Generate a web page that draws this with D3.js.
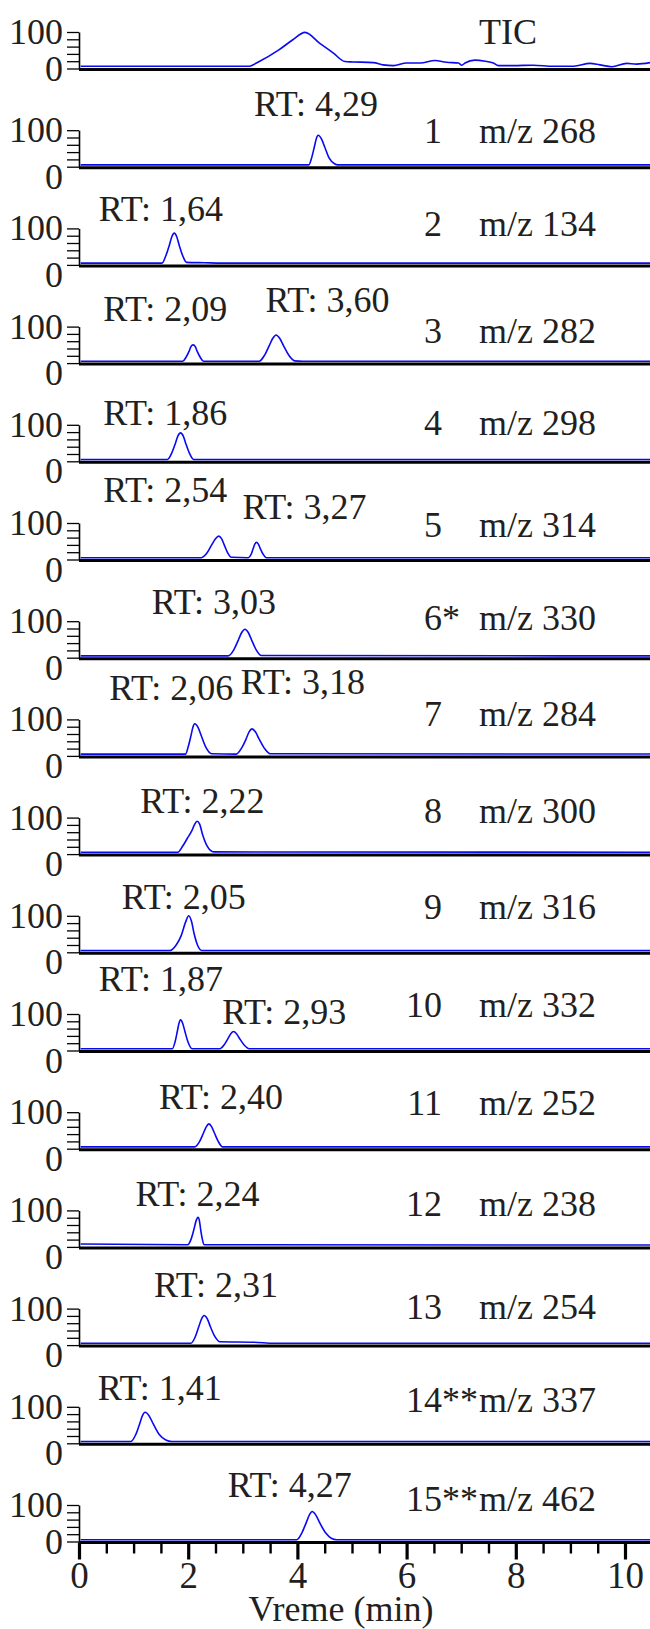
<!DOCTYPE html>
<html><head><meta charset="utf-8">
<script src="https://cdn.jsdelivr.net/npm/d3@7"></script>
<style>
body{margin:0;background:#fff}
svg{display:block}
text{font-family:"Liberation Serif","Times New Roman",serif;fill:#231f20}
</style>
</head><body>
<svg id="chart" width="650" height="1629"></svg>
<script>
// ---------------- DATA ----------------
const panelIds   = ["TIC","1","2","3","4","5","6","7","8","9","10","11","12","13","14","15"];
const panelMarks = ["","","","","","","*","","","","","","","","**","**"];
const mzValues   = [null,268,134,282,298,314,330,284,300,316,332,252,238,254,337,462];
const rtValues   = [[],["4,29"],["1,64"],["2,09","3,60"],["1,86"],["2,54","3,27"],["3,03"],
                    ["2,06","3,18"],["2,22"],["2,05"],["1,87","2,93"],["2,40"],["2,24"],["2,31"],["1,41"],["4,27"]];
const xMajorTicks = [0,2,4,6,8,10];
const yTickLabels = [0,100];
const xTitle = "Vreme (min)";

// traces: [time (min), relative abundance (%)]
const traceTIC = [[0.03,6],[3.10,6],[3.31,20],[3.66,51],[3.91,78],[4.14,99],[4.41,69],[4.66,42],[4.87,19],
  [5.02,18],[5.39,16],[5.57,10],[5.76,8],[6.00,15],[6.25,15],[6.52,22],[6.73,17],[6.95,15],[7.01,9],[7.07,15],
  [7.25,23],[7.44,20],[7.59,15],[7.68,8],[7.95,8],[8.32,9],[8.69,6],[9.06,6],[9.36,14],[9.54,10],[9.76,5],
  [10.03,14],[10.21,12],[10.5,17]];
const trace01 = [[0.03,5],[4.21,5],[4.26,24],[4.31,54],[4.345,76],[4.38,86],[4.44,76],[4.50,54],[4.58,24],[4.68,8],[4.74,5],[10.5,5]];
const trace02 = [[0.03,5],[1.52,5],[1.59,25],[1.655,54],[1.70,77],[1.745,87],[1.79,77],[1.835,54],[1.90,25],[1.97,7],[2.3,6],[2.6,5],[10.5,5]];
const trace03 = [[0.03,5],[1.90,5],[1.96,16],[2.015,32],[2.05,45],[2.09,50],[2.13,45],[2.165,32],[2.22,16],[2.28,5],
  [3.30,5],[3.40,22],[3.485,48],[3.55,68],[3.61,77],[3.675,68],[3.745,48],[3.84,22],[3.95,6],[4.1,5],[10.5,5]];
const trace04 = [[0.03,5],[1.62,5],[1.70,23],[1.765,49],[1.81,69],[1.86,78],[1.91,69],[1.955,49],[2.02,23],[2.10,5],[10.5,5]];
const trace05 = [[0.03,5],[2.24,5],[2.35,19],[2.43,40],[2.50,57],[2.56,64],[2.61,57],[2.66,40],[2.72,19],[2.79,6],
  [3.10,5],[3.155,15],[3.19,30],[3.22,42],[3.25,47],[3.285,42],[3.32,30],[3.37,15],[3.43,5],[10.5,5]];
const trace06 = [[0.03,5],[2.73,5],[2.84,23],[2.92,49],[2.98,69],[3.04,78],[3.10,69],[3.16,49],[3.24,23],[3.34,6],[10.5,5]];
const trace07 = [[0.03,5],[1.95,5],[2.00,25],[2.05,55],[2.085,78],[2.12,88],[2.18,78],[2.24,55],[2.32,25],[2.43,6],
  [2.88,5],[2.98,22],[3.06,46],[3.115,66],[3.17,74],[3.23,66],[3.30,46],[3.39,22],[3.50,6],[10.5,5]];
const trace08 = [[0.03,5],[1.81,5],[1.90,22],[1.98,42],[2.06,62],[2.12,82],[2.16,90],[2.21,82],[2.26,55],[2.34,24],[2.47,6],[10.5,5]];
const trace09 = [[0.03,5],[1.67,5],[1.78,20],[1.87,45],[1.95,82],[2.01,100],[2.06,85],[2.11,50],[2.17,20],[2.25,5],[10.5,5]];
const trace10 = [[0.03,5],[1.71,5],[1.76,24],[1.80,52],[1.83,74],[1.86,84],[1.90,74],[1.94,52],[1.995,24],[2.07,5],
  [2.58,5],[2.66,16],[2.73,33],[2.78,46],[2.83,52],[2.885,46],[2.94,33],[3.02,16],[3.12,5],[10.5,5]];
const trace11 = [[0.03,5],[2.12,5],[2.21,20],[2.28,43],[2.33,60],[2.38,68],[2.43,60],[2.48,43],[2.55,20],[2.63,5],[10.5,5]];
const trace12 = [[0.03,8],[1.99,6],[2.06,24],[2.11,51],[2.145,72],[2.18,81],[2.205,72],[2.225,51],[2.255,24],[2.29,6],[10.5,5]];
const trace13 = [[0.03,5],[2.05,5],[2.13,23],[2.195,51],[2.245,72],[2.29,81],[2.35,72],[2.405,51],[2.49,23],[2.58,9],[3.2,8],[3.57,5],[10.5,5]];
const trace14 = [[0.03,5],[0.95,5],[1.04,24],[1.11,53],[1.16,75],[1.21,85],[1.285,75],[1.36,53],[1.47,24],[1.59,9],[1.70,5],[10.5,5]];
const trace15 = [[0.03,5],[3.99,5],[4.08,23],[4.16,51],[4.22,73],[4.27,82],[4.335,73],[4.41,51],[4.52,23],[4.62,9],[4.72,5],[10.5,5]];
const traces = [traceTIC,trace01,trace02,trace03,trace04,trace05,trace06,trace07,trace08,trace09,trace10,trace11,trace12,trace13,trace14,trace15];

// ---------------- LAYOUT (not data) ----------------
const baseTop = 69.5, panelStep = 98.2;
const labelLift = [25.7,24.5,30,21.5,27,24,29,30.5,32.3,34.5,35,34.7,32.3,27.4,32,31.7];
const rtLayout = [[],[[4.34,51.4]],[[1.50,45]],[[1.58,43],[4.55,52]],[[1.58,37.5]],[[1.58,59],[4.13,41.5]],
  [[2.47,45]],[[1.69,57],[4.10,63]],[[2.26,42]],[[1.92,44]],[[1.50,61],[3.76,28]],[[2.60,40.7]],
  [[2.17,42.3]],[[2.51,49.4]],[[1.48,44.7]],[[3.86,46]]];
const FS = 36, FS_Y = 36, FS_X = 37;

const svg = d3.select("#chart");
const x = d3.scaleLinear().domain([0,10.5]).range([79, 652.3]);
const line = d3.line().curve(d3.curveMonotoneX);
const last = panelIds.length - 1;

function label(g, px, py, str, fs, anchor) {
  return g.append("text").attr("x", px).attr("y", py).attr("font-size", fs)
    .attr("text-anchor", anchor || "start").text(str);
}

panelIds.forEach((pid, i) => {
  const by = baseTop + panelStep * i;
  const y = d3.scaleLinear().domain([0,100]).range([by - 1, by - 37.5]);
  const g = svg.append("g");

  // y axis
  const ax = g.append("g").attr("transform", `translate(${x(0)},0)`)
    .call(d3.axisLeft(y).tickValues([0,20,40,60,80,100]).tickSize(12).tickSizeOuter(0).tickFormat(""));
  ax.selectAll("path").attr("stroke","#000").attr("stroke-width",1.6);
  ax.selectAll("line").attr("stroke","#000").attr("stroke-width",1.3);

  // y tick labels
  yTickLabels.forEach(v => {
    const shift = (v === 0 && i !== 0 && i !== last) ? 10 : 0;
    label(g, 63, y(v) + 12 + shift, v, FS_Y, "end");
  });

  // baseline
  g.append("line").attr("x1", x(0)).attr("x2", 650).attr("y1", by).attr("y2", by)
    .attr("stroke","#000").attr("stroke-width",3);

  // trace
  g.append("path").attr("d", line(traces[i].map(d => [x(d[0]), y(d[1])])))
    .attr("fill","none").attr("stroke","#0a0af0").attr("stroke-width",1.6).attr("stroke-linejoin","round");

  // panel label
  const ly = by - labelLift[i];
  if (i === 0) {
    label(g, 479, ly, pid, FS);
  } else {
    label(g, 442, ly, pid, FS, "end");
    if (panelMarks[i]) label(g, 442, ly, panelMarks[i], FS);
    label(g, 479, ly, "m/z " + mzValues[i], FS);
  }

  // RT labels
  rtValues[i].forEach((rt, k) => {
    const [t, lift] = rtLayout[i][k];
    label(g, x(t), by - lift, "RT: " + rt, FS, "middle");
  });

  // bottom x axis
  if (i === last) {
    const minor = x.ticks(21).filter(v => v % 2 !== 0 && v <= 10.5);
    const am = g.append("g").attr("transform",`translate(0,${by})`)
      .call(d3.axisBottom(x).tickValues(minor).tickSize(11).tickFormat(""));
    am.select("path").remove();
    am.selectAll("line").attr("stroke","#000").attr("stroke-width",2.4);
    const aM = g.append("g").attr("transform",`translate(0,${by})`)
      .call(d3.axisBottom(x).tickValues(xMajorTicks).tickSize(17).tickPadding(2).tickFormat(d3.format("d")));
    aM.select("path").remove();
    aM.selectAll("line").attr("stroke","#000").attr("stroke-width",3.2);
    aM.selectAll("text").attr("font-size",FS_X).attr("fill","#231f20")
      .attr("font-family",'"Liberation Serif","Times New Roman",serif');
    label(svg, 341, 1621, xTitle, FS, "middle");
  }
});
</script>
</body></html>
